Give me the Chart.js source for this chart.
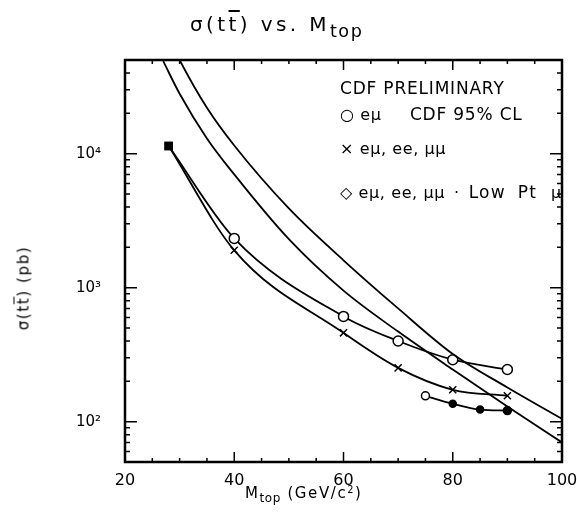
<!DOCTYPE html>
<html>
<head>
<meta charset="utf-8">
<script src="https://cdn.jsdelivr.net/npm/chart.js@4/dist/chart.umd.min.js"></script>
<style>
  html, body { margin:0; padding:0; background:#fff; }
  #wrap { position:relative; width:577px; height:513px; overflow:hidden; font-family:"DejaVu Sans", sans-serif; color:#000; }
  #c { position:absolute; left:0; top:0; }
  .txt { position:absolute; white-space:nowrap; line-height:1; }
  .ov { text-decoration: overline; }
  sub { font-size:80%; vertical-align:-0.35em; line-height:0; }
  sup { font-size:65%; vertical-align:0.5em; line-height:0; }
  .leg { font-size:16px; letter-spacing:0.6px; }
  #legclip { position:absolute; left:0; top:0; width:562px; height:513px; overflow:hidden; }
</style>
</head>
<body>
<div id="wrap">
  <canvas id="c" width="577" height="513"></canvas>
  <div class="txt" style="left:190px; top:14px; font-size:20px; letter-spacing:3.4px;">σ(t<span class="ov">t</span>) vs. M<sub style="font-size:88%; letter-spacing:1.5px;">top</sub></div>
  <div class="txt" style="left:24px; top:288px; font-size:15px; letter-spacing:1.6px; transform:translate(-50%,-50%) rotate(-90deg);">σ(t<span class="ov">t</span>) (pb)</div>
  <div class="txt" style="left:245px; top:486px; font-size:15px; letter-spacing:1.6px;">M<sub style="letter-spacing:0.6px;">top</sub> (GeV/c<sup>2</sup>)</div>
  <div id="legclip">
    <div class="txt leg" style="left:340px; top:80px; font-size:17px; letter-spacing:0.8px;">CDF PRELIMINARY</div>
    <div class="txt leg" style="left:340px; top:106px;">○ eμ&nbsp;&nbsp;&nbsp;&nbsp;&nbsp;<span style="font-size:17px; letter-spacing:0.8px;">CDF 95% CL</span></div>
    <div class="txt leg" style="left:340px; top:141px;">× eμ, ee, μμ</div>
    <div class="txt leg" style="left:340px; top:184px;">◇ eμ, ee, μμ<span style="padding-left:9px;">·</span><span style="padding-left:9px; font-size:17px; letter-spacing:1.2px;">Low</span><span style="padding-left:12px; font-size:17px; letter-spacing:1.2px;">Pt</span><span style="padding-left:14px;">μ</span></div>
  </div>
</div>
<script>
// ---- data ----
const eMuMass   = [28, 40, 60, 70, 80, 90];
const eMuXsec   = [11400, 2330, 610, 400, 290, 245];
const dilepMass = [28, 40, 60, 70, 80, 90];
const dilepXsec = [11400, 1900, 460, 252, 173, 156];
const lowPtMass = [75, 80, 85, 90];
const lowPtXsec = [156, 136, 123, 121];
const theoryMass  = [27, 30, 35, 40, 50, 60, 70, 80, 90, 100];
const theoryUpper = [90000, 50000, 22000, 11500, 3900, 1600, 700, 320, 180, 105];
const theoryLower = [49000, 28000, 13000, 7000, 2300, 950, 470, 245, 130, 70];
const yTickValues = [100, 1000, 10000];
const yTickLabels = ['10²', '10³', '10⁴'];
const xTickValues = [20, 40, 60, 80, 100];

function pts(xs, ys) { return xs.map((x, i) => ({ x: x, y: ys[i] })); }

const tickPlugin = {
  id: 'inTicks',
  afterDraw(chart) {
    const ctx = chart.ctx, xs = chart.scales.x, ys = chart.scales.y, a = chart.chartArea;
    ctx.save();
    ctx.strokeStyle = '#000';
    ctx.lineWidth = 1.5;
    ctx.beginPath();
    for (let d = 10; d <= 10000; d *= 10) {
      for (let m = 1; m <= 9; m++) {
        const v = m * d;
        if (v < ys.min || v > ys.max) continue;
        const y = ys.getPixelForValue(v);
        const len = m === 1 ? 12 : 5;
        ctx.moveTo(a.left, y); ctx.lineTo(a.left + len, y);
        ctx.moveTo(a.right, y); ctx.lineTo(a.right - len, y);
      }
    }
    for (let v = xs.min; v <= xs.max; v += 5) {
      const x = xs.getPixelForValue(v);
      const len = (v % 20 === 0) ? 10 : 4;
      ctx.moveTo(x, a.bottom); ctx.lineTo(x, a.bottom - len);
      ctx.moveTo(x, a.top); ctx.lineTo(x, a.top + len);
    }
    ctx.stroke();
    ctx.lineWidth = 2.5;
    ctx.strokeRect(a.left, a.top, a.right - a.left, a.bottom - a.top);
    ctx.restore();
  }
};

const lineBase = { borderColor: '#000', borderWidth: 1.8, fill: false, tension: 0.4, cubicInterpolationMode: 'monotone' };

new Chart(document.getElementById('c'), {
  type: 'line',
  data: {
    datasets: [
      Object.assign({}, lineBase, { label: 'upper', data: pts(theoryMass, theoryUpper), pointRadius: 0 }),
      Object.assign({}, lineBase, { label: 'lower', data: pts(theoryMass, theoryLower), pointRadius: 0 }),
      Object.assign({}, lineBase, {
        label: 'emu', data: pts(eMuMass, eMuXsec),
        pointStyle: ['rect', 'circle', 'circle', 'circle', 'circle', 'circle'],
        pointRadius: [5, 5, 5, 5, 5, 5],
        pointBackgroundColor: ['#000', '#fff', '#fff', '#fff', '#fff', '#fff'],
        pointBorderColor: '#000', pointBorderWidth: 1.5
      }),
      Object.assign({}, lineBase, {
        label: 'dilep', data: pts(dilepMass, dilepXsec),
        pointStyle: ['rect', 'crossRot', 'crossRot', 'crossRot', 'crossRot', 'crossRot'],
        pointRadius: [5, 5, 5, 5, 5, 5],
        pointBackgroundColor: '#000', pointBorderColor: '#000', pointBorderWidth: 1.5
      }),
      Object.assign({}, lineBase, {
        label: 'lowpt', data: pts(lowPtMass, lowPtXsec), tension: 0.2,
        pointStyle: 'circle',
        pointRadius: [4, 3.5, 3.5, 4],
        pointBackgroundColor: ['#fff', '#000', '#000', '#000'],
        pointBorderColor: '#000', pointBorderWidth: 1.5
      })
    ]
  },
  options: {
    responsive: false, animation: false, devicePixelRatio: 1,
    layout: { padding: { left: 0, right: 15, top: 60, bottom: 0 } },
    plugins: { legend: { display: false }, tooltip: { enabled: false }, title: { display: false } },
    scales: {
      x: {
        type: 'linear', min: 20, max: 100,
        afterFit(s) { s.height = 51; s.paddingLeft = 0; s.paddingRight = 0; },
        afterBuildTicks(s) { s.ticks = xTickValues.map(v => ({ value: v })); },
        grid: { display: false, drawTicks: false },
        border: { display: false },
        ticks: { color: '#000', padding: 9, font: { family: 'DejaVu Sans', size: 16 }, maxRotation: 0, autoSkip: false }
      },
      y: {
        type: 'logarithmic', min: 50, max: 50000,
        afterFit(s) { s.width = 125; s.paddingTop = 0; s.paddingBottom = 0; },
        afterBuildTicks(s) { s.ticks = yTickValues.map(v => ({ value: v })); },
        grid: { display: false, drawTicks: false },
        border: { display: false },
        ticks: {
          color: '#000', padding: 24, font: { family: 'DejaVu Sans', size: 15 }, autoSkip: false,
          callback(v) { const i = yTickValues.indexOf(v); return i >= 0 ? yTickLabels[i] : ''; }
        }
      }
    }
  },
  plugins: [tickPlugin]
});
</script>
</body>
</html>
